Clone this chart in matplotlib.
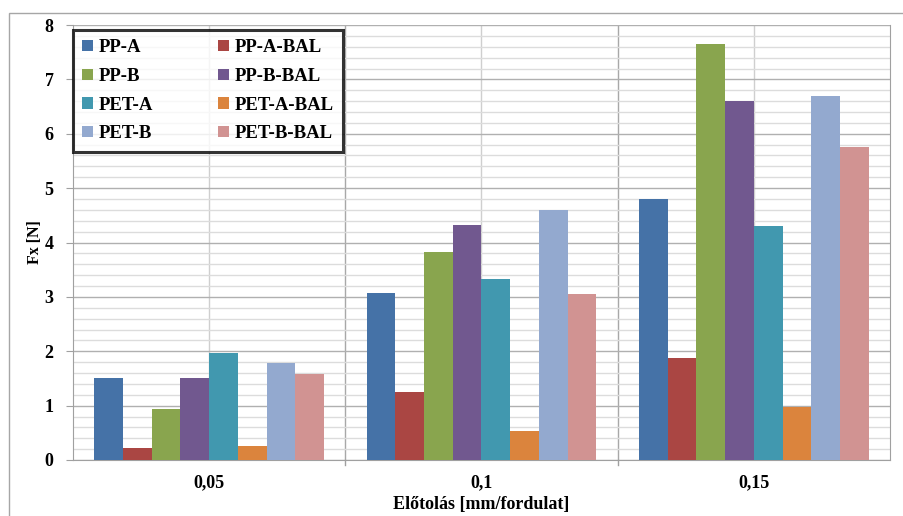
import numpy as np
import matplotlib.pyplot as plt
from matplotlib.patches import Rectangle

categories = ["0,05", "0,1", "0,15"]
series = ["PP-A", "PP-A-BAL", "PP-B", "PP-B-BAL",
          "PET-A", "PET-A-BAL", "PET-B", "PET-B-BAL"]
pp_a = [1.50, 3.08, 4.80]
pp_a_bal = [0.22, 1.25, 1.88]
pp_b = [0.93, 3.83, 7.65]
pp_b_bal = [1.50, 4.33, 6.60]
pet_a = [1.96, 3.32, 4.30]
pet_a_bal = [0.25, 0.54, 0.97]
pet_b = [1.78, 4.60, 6.70]
pet_b_bal = [1.58, 3.05, 5.75]
values = [pp_a, pp_a_bal, pp_b, pp_b_bal, pet_a, pet_a_bal, pet_b, pet_b_bal]
colors = ["#4572A7", "#AA4643", "#89A54E", "#71588F",
          "#4198AF", "#DB843D", "#93A9CF", "#D19392"]

plt.rcParams["font.family"] = "Liberation Serif"
plt.rcParams["font.weight"] = "bold"

fig = plt.figure(figsize=(9.04, 5.16), dpi=100)
# outer chart frame
fig.patches.append(Rectangle((9 / 904, -0.1), 1.2, (516 - 13) / 516 + 0.1,
                             transform=fig.transFigure, fill=False,
                             edgecolor="#a6a6a6", linewidth=1.0))
ax = fig.add_axes([73 / 904, 56 / 516, (890 - 73) / 904, (460 - 25) / 516])

x = np.arange(len(categories))
width = 0.1053
handles = []
for i, (name, vals, col) in enumerate(zip(series, values, colors)):
    offs = (i - 3.5) * width
    b = ax.bar(x + offs, vals, width, color=col, label=name, zorder=3)
    handles.append(b)

ax.set_xlim(-0.5, 2.5)
ax.set_ylim(0, 8)
ax.set_yticks(range(0, 9))
ax.set_yticks(np.arange(0, 8.01, 0.2), minor=True)
ax.yaxis.grid(True, which="minor", color="#dcdcdc", linewidth=1.0, zorder=0)
ax.yaxis.grid(True, which="major", color="#b0b0b0", linewidth=1.0, zorder=0)
for c in x:
    ax.axvline(c, color="#cfcfcf", linewidth=1.0, zorder=0)
for bnd in [0.5, 1.5]:
    ax.axvline(bnd, color="#a8a8a8", linewidth=1.0, zorder=0)
    ax.plot([bnd, bnd], [0, -0.1], color="#a0a0a0", linewidth=1.0,
            clip_on=False)

ax.set_xticks(x)
ax.set_xticklabels(categories, fontsize=13, fontweight="bold")
ax.tick_params(axis="x", length=0, pad=10)
ax.tick_params(axis="y", which="major", length=5, color="#a0a0a0",
               labelsize=13, pad=9)
ax.tick_params(axis="y", which="minor", length=0)
for lab in ax.get_yticklabels():
    lab.set_fontweight("bold")

ax.spines["top"].set_visible(False)
for s in ["left", "bottom", "right"]:
    ax.spines[s].set_color("#a0a0a0")

ax.set_ylabel("Fx [N]", fontsize=11.5, fontweight="bold", labelpad=1)
ax.set_xlabel("Előtolás [mm/fordulat]", fontsize=13, fontweight="bold",
              labelpad=4)

# legend filled row by row like the original
order = [0, 2, 4, 6, 1, 3, 5, 7]
leg = ax.legend([handles[i] for i in order], [series[i] for i in order],
                ncol=2, loc="upper left", bbox_to_anchor=(0.0, 0.9885),
                borderaxespad=0.0, frameon=True, fancybox=False,
                prop={"weight": "bold", "size": 13.5},
                handlelength=0.55, handleheight=0.55, handletextpad=0.3,
                columnspacing=3.5, labelspacing=0.62, borderpad=0.5)
leg.get_frame().set_edgecolor("black")
leg.get_frame().set_linewidth(2.2)
leg.set_zorder(5)

fig.savefig("out.png", dpi=100)
